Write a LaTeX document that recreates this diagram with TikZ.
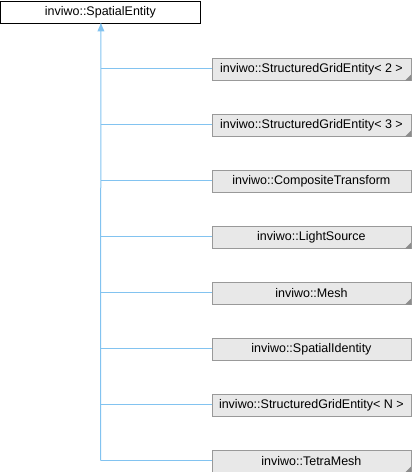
\documentclass[tikz,border=0pt]{standalone}
\usepackage{fontspec}
\setmainfont{Liberation Sans}
\usetikzlibrary{arrows.meta}
\definecolor{edgeblue}{RGB}{130,195,240}
\definecolor{boxfill}{RGB}{232,232,232}
\definecolor{boxline}{RGB}{153,153,153}
\definecolor{foldgray}{RGB}{140,140,140}
\tikzset{
  x=1pt, y=-1pt,
  basebox/.style={draw=black, fill=white, line width=0.8pt, minimum width=199pt, minimum height=22pt, inner sep=0pt, font=\fontsize{12.5}{14}\selectfont, anchor=north west},
  childbox/.style={draw=boxline, fill=boxfill, line width=0.8pt, minimum width=199pt, minimum height=22pt, inner sep=0pt, font=\fontsize{12.5}{14}\selectfont, anchor=north west},
  inh/.style={draw=edgeblue, line width=1pt},
}
\begin{document}
\begin{tikzpicture}
\useasboundingbox (0,0) rectangle (412,472);
\node[basebox] (base) at (0.5,0.5) {inviwo::SpatialEntity};
\node[childbox] (c1) at (211.5,57.5) {inviwo::StructuredGridEntity< 2 >};
\node[childbox] (c2) at (211.5,113.5) {inviwo::StructuredGridEntity< 3 >};
\node[childbox] (c3) at (211.5,169.5) {inviwo::CompositeTransform};
\node[childbox] (c4) at (211.5,225.5) {inviwo::LightSource};
\node[childbox] (c5) at (211.5,281.5) {inviwo::Mesh};
\node[childbox] (c6) at (211.5,337.5) {inviwo::SpatialIdentity};
\node[childbox] (c7) at (211.5,393.5) {inviwo::StructuredGridEntity< N >};
\node[childbox] (c8) at (211.5,449.5) {inviwo::TetraMesh};
\foreach \n in {c1,c2,c4,c5,c8} {\fill[foldgray] ([xshift=-0.4pt,yshift=-0.4pt]\n.south east) -- ++(0,-6) -- ++(-6,6) -- cycle;}
\coordinate (bot) at (100.5,460.5);
\draw[inh] (bot) -- ([xshift=0.5pt]base.south);
\fill[edgeblue] ([xshift=0.5pt]base.south) -- ++(-3.5,8) -- ++(7,0) -- cycle;
\foreach \n in {c1,c2,c3,c4,c5,c6,c7,c8} {\draw[inh] (\n.west) -- (\n.west -| bot);}
\end{tikzpicture}
\end{document}
